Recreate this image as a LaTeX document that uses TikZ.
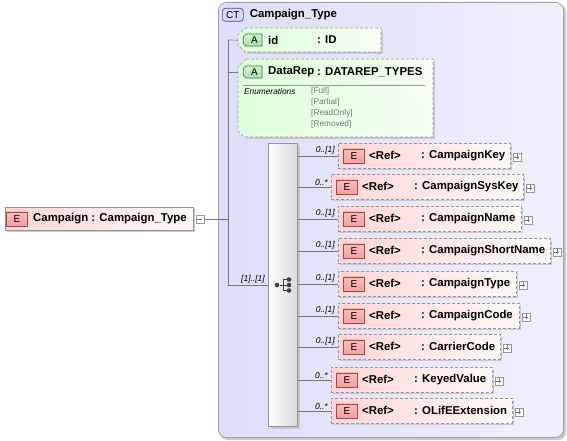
\documentclass[tikz,border=0pt]{standalone}
\usepackage{fontspec}
\setmainfont{Liberation Sans}
\usetikzlibrary{calc}
\definecolor{ctfillA}{RGB}{222,222,250}
\definecolor{ctfillB}{RGB}{240,240,253}
\definecolor{ctline}{RGB}{160,160,175}
\definecolor{elpink}{RGB}{255,214,214}
\definecolor{elpinkR}{RGB}{255,248,248}
\definecolor{atgreen}{RGB}{222,255,218}
\definecolor{atgreenR}{RGB}{246,255,244}
\definecolor{ebfill}{RGB}{244,160,160}
\definecolor{ebline}{RGB}{170,70,70}
\definecolor{abfill}{RGB}{176,226,176}
\definecolor{abline}{RGB}{60,120,60}
\definecolor{ctbfill}{RGB}{214,214,248}
\definecolor{ctbline}{RGB}{80,80,130}
\definecolor{boxline}{RGB}{150,150,150}
\definecolor{connc}{RGB}{120,120,120}
\definecolor{shadowc}{RGB}{200,200,205}
\definecolor{enumc}{RGB}{120,120,120}
\newcommand\nmfont{\fontsize{11.4}{13}\selectfont\bfseries}
\newcommand\smfont{\fontsize{8.3}{9}\selectfont}
\tikzset{
  conn/.style={draw=connc, line width=0.7pt},
  elbox/.style={draw=boxline, line width=0.7pt, left color=elpink, right color=elpinkR, inner sep=0pt, minimum height=23pt},
  optbox/.style={draw=boxline, line width=0.7pt, dash pattern=on 3pt off 2pt, left color=elpink, right color=elpinkR, inner sep=0pt, minimum height=25pt},
  attrshape/.style={draw=boxline, line width=0.7pt, dash pattern=on 3pt off 2pt, left color=atgreen, right color=atgreenR},
  ebadge/.style={draw=ebline, line width=0.6pt, top color=ebfill!70!white, bottom color=ebfill, minimum width=21pt, minimum height=14pt, inner sep=0pt, font=\fontsize{10}{12}\selectfont},
  abadge/.style={draw=abline, line width=0.6pt, top color=abfill!60!white, bottom color=abfill},
  nametxt/.style={inner sep=0pt, font=\nmfont},
  reftxt/.style={inner sep=0pt, font=\nmfont},
  mult/.style={inner sep=0pt, font=\fontsize{8.5}{10}\selectfont\itshape},
  plusbox/.style={draw=boxline, fill=white, line width=0.5pt, minimum size=8pt, inner sep=0pt,
    path picture={\draw[connc, line width=0.5pt] ([xshift=-2.5pt]path picture bounding box.center) -- ([xshift=2.5pt]path picture bounding box.center)
      ([yshift=-2.5pt]path picture bounding box.center) -- ([yshift=2.5pt]path picture bounding box.center);}},
  minusbox/.style={draw=boxline, fill=white, line width=0.5pt, minimum size=8pt, inner sep=0pt,
    path picture={\draw[connc, line width=0.5pt] ([xshift=-2.5pt]path picture bounding box.center) -- ([xshift=2.5pt]path picture bounding box.center);}},
  seqbox/.style={draw=boxline, line width=0.7pt, left color=white, right color=black!15, inner sep=0pt},
  dot/.style={circle, fill=black!75, inner sep=0pt, minimum size=4.6pt},
}
% #1 name, #2 left, #3 top, #4 width, #5 label, #6 multiplicity
\newcommand\childel[6]{%
  \fill[shadowc] (#2+2,#3+2) rectangle ++(#4,25);
  \node[optbox, minimum width=#4pt, anchor=north west] (#1) at (#2,#3) {};
  \node[ebadge] (#1e) at ([xshift=16pt]#1.west) {E};
  \node[reftxt, anchor=west] (#1r) at ([xshift=31pt]#1.west) {<Ref>};
  \node[nametxt, anchor=west] (#1n) at ([xshift=83pt]#1.west) {: #5};
  \node[plusbox, anchor=west] (#1p) at ([xshift=2pt,yshift=-1pt]#1.east) {};
  \draw[conn] (seq.east |- #1.west) -- (#1.west);
  \node[mult, anchor=south east] (#1m) at ([xshift=-3pt,yshift=1.5pt]#1.west) {#6};
}
\begin{document}
\begin{tikzpicture}[x=1pt,y=-1pt]
\useasboundingbox (0,0) rectangle (567,441);
% complex type container
\fill[shadowc, rounded corners=8pt] (220,4) rectangle (566,440);
\node[draw=ctline, line width=0.8pt, rounded corners=8pt, left color=ctfillA, right color=ctfillB,
  minimum width=345pt, minimum height=435pt, anchor=north west, inner sep=0pt] (ct) at (218,2) {};
\node[draw=ctbline, line width=0.6pt, rounded corners=3pt, fill=ctbfill, minimum width=21pt, minimum height=13pt,
  inner sep=0pt, anchor=north west, font=\fontsize{10}{12}\selectfont] (ctb) at (222,8) {CT};
\node[nametxt, anchor=west] (cttitle) at ([xshift=6pt]ctb.east) {Campaign\_Type};

% root element
\fill[shadowc] (7,209) rectangle (195,232);
\node[elbox, minimum width=188pt, anchor=north west] (campaign) at (5,207) {};
\node[ebadge] (campaigne) at ([xshift=12pt]campaign.west) {E};
\node[nametxt, anchor=west] (campaignn) at ([xshift=28pt]campaign.west) {Campaign : Campaign\_Type};
\node[minusbox, anchor=west] (cmin) at ([xshift=2pt]campaign.east) {};

% tree trunk
\coordinate (trtop) at (228,40);
\coordinate (trbot) at (228,285);
\coordinate (drpt) at (238,72);
\draw[conn] (cmin.east) -- (cmin.east -| trtop);
\draw[conn] (trtop) -- (trbot);

% attribute id
\fill[shadowc] (247,30) -- (383,30) -- (383,54) -- (247,54) -- cycle;
\draw[attrshape] (245,28) -- (381,28) -- (381,52) -- (245,52) -- (238,45) -- (238,35) -- cycle;
\node[inner sep=0pt, minimum width=143pt, minimum height=24pt, anchor=north west] (idbox) at (238,28) {};
\draw[abadge] (262,34) -- (262,46) -- (246,46) .. controls (242,46) and (242,34) .. (246,34) -- cycle;
\node[inner sep=0pt, font=\fontsize{10}{12}\selectfont] (idA) at (254.5,40) {A};
\node[nametxt, anchor=west] (idn) at (268,40) {id};
\node[nametxt, anchor=west] (idt) at (317,40) {: ID};
\draw[conn] (trtop) -- (idbox.west);

% attribute DataRep
\fill[shadowc] (247,61) -- (435,61) -- (435,139) -- (247,139) -- cycle;
\draw[attrshape] (246,59) -- (433,59) -- (433,137) -- (244,137) -- (238,131) -- (238,67) -- cycle;
\node[inner sep=0pt, minimum width=195pt, minimum height=78pt, anchor=north west] (drbox) at (238,59) {};
\draw[abadge] (262,66) -- (262,78) -- (246,78) .. controls (242,78) and (242,66) .. (246,66) -- cycle;
\node[inner sep=0pt, font=\fontsize{10}{12}\selectfont] (drA) at (254.5,72) {A};
\node[nametxt, anchor=west] (drn) at (268,72) {DataRep};
\node[nametxt, anchor=west] (drt) at (317,72) {: DATAREP\_TYPES};
\draw[draw=boxline, line width=0.7pt] (243,85) -- (425,85);
\node[inner sep=0pt, anchor=west, font=\smfont\itshape] (enh) at (244,92) {Enumerations};
\node[inner sep=0pt, anchor=west, font=\smfont, text=enumc] (en1) at (311,91) {[Full]};
\node[inner sep=0pt, anchor=west, font=\smfont, text=enumc] (en2) at (311,102) {[Partial]};
\node[inner sep=0pt, anchor=west, font=\smfont, text=enumc] (en3) at (311,113) {[ReadOnly]};
\node[inner sep=0pt, anchor=west, font=\smfont, text=enumc] (en4) at (311,124) {[Removed]};
\draw[conn] (trtop |- drpt) -- (drpt);

% sequence compositor
\fill[shadowc] (270,145) rectangle (300,429);
\node[seqbox, minimum width=29pt, minimum height=283pt, anchor=north west] (seq) at (268,143) {};
\draw[conn] (trbot) -- (trbot -| seq.west);
\node[mult, anchor=south east] (seqm) at (265,283.5) {[1]..[1]};
\node[dot] (sd0) at (277,285) {};
\node[dot] (sd1) at (289,279.5) {};
\node[dot] (sd2) at (289,285) {};
\node[dot] (sd3) at (289,290.5) {};
\draw[black!75, line width=1pt] (sd0) -- (283,285) (283,279.5) -- (283,290.5) (283,279.5) -- (sd1) (283,285) -- (sd2) (283,290.5) -- (sd3);

% children
\childel{c1}{338}{143}{172}{CampaignKey}{0..[1]}
\childel{c2}{331}{174}{192}{CampaignSysKey}{0..*}
\childel{c3}{338}{206}{183}{CampaignName}{0..[1]}
\childel{c4}{338}{238}{212}{CampaignShortName}{0..[1]}
\childel{c5}{338}{271}{178}{CampaignType}{0..[1]}
\childel{c6}{338}{303}{181}{CampaignCode}{0..[1]}
\childel{c7}{338}{334}{162}{CarrierCode}{0..[1]}
\childel{c8}{331}{367}{161}{KeyedValue}{0..*}
\childel{c9}{331}{398}{181}{OLifEExtension}{0..*}
\end{tikzpicture}
\end{document}
